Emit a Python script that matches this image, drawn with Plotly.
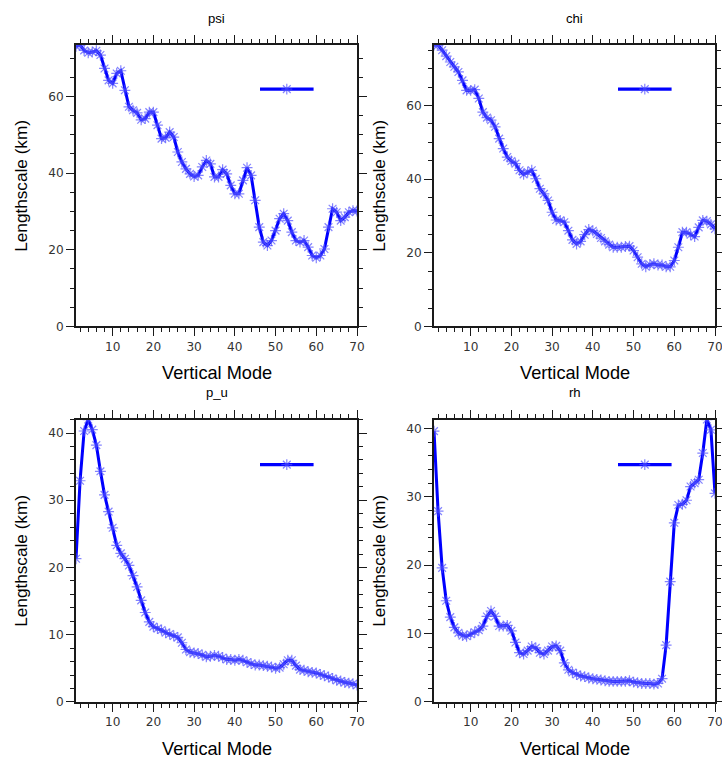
import plotly.graph_objects as go

modes = list(range(1, 71))

psi = [73.1, 73.4, 72.0, 71.4, 71.6, 71.9, 70.8, 67.3, 64.2, 63.4,
       66.0, 66.7, 61.6, 57.3, 56.4, 55.7, 53.9, 54.2, 55.9, 55.9,
       52.5, 49.0, 49.2, 50.7, 49.4, 45.5, 42.9, 41.1, 39.8, 39.1,
       39.4, 41.6, 43.3, 42.4, 39.0, 39.0, 40.9, 39.8, 36.8, 34.6,
       34.6, 38.1, 41.4, 39.4, 32.9, 25.9, 22.0, 21.1, 22.4, 25.0,
       28.1, 29.4, 27.6, 24.6, 22.4, 22.0, 22.4, 20.7, 18.5, 17.9,
       18.5, 20.2, 25.9, 30.7, 29.8, 27.6, 28.5, 29.8, 30.2, 30.1]

chi = [76.4, 76.4, 75.0, 73.4, 71.8, 70.5, 69.1, 66.8, 64.1, 64.1,
       64.3, 61.9, 58.2, 56.7, 56.0, 54.2, 51.0, 48.3, 46.0, 44.9,
       44.2, 42.4, 41.3, 41.9, 42.4, 40.1, 37.4, 36.0, 34.2, 31.0,
       28.9, 28.8, 28.3, 26.0, 23.5, 22.4, 23.1, 24.9, 26.3, 26.0,
       25.1, 24.0, 23.1, 22.2, 21.5, 21.5, 21.5, 21.7, 21.8, 20.6,
       18.8, 17.0, 16.2, 16.8, 17.0, 16.7, 16.7, 16.2, 16.2, 17.9,
       21.5, 25.6, 25.6, 24.9, 24.4, 26.9, 28.8, 28.6, 27.7, 26.5]

p_u = [21.3, 32.9, 40.3, 42.0, 40.5, 38.2, 34.3, 30.8, 28.3, 25.9,
       23.3, 22.1, 21.3, 20.3, 18.8, 17.1, 15.1, 13.3, 11.9, 11.2,
       10.9, 10.7, 10.3, 10.1, 9.8, 9.6, 8.8, 7.8, 7.4, 7.3,
       7.2, 7.0, 6.7, 6.8, 6.9, 6.8, 6.6, 6.3, 6.3, 6.2,
       6.3, 6.2, 5.9, 5.7, 5.5, 5.5, 5.4, 5.3, 5.2, 5.0,
       5.1, 5.6, 6.2, 6.2, 5.4, 4.8, 4.7, 4.5, 4.4, 4.3,
       4.1, 3.9, 3.7, 3.5, 3.2, 3.1, 2.9, 2.8, 2.7, 2.5]

rh = [39.6, 27.9, 19.6, 14.8, 12.4, 10.9, 10.1, 9.7, 9.6, 9.9,
      10.2, 10.5, 11.1, 12.5, 13.3, 12.5, 11.1, 11.1, 11.2, 10.4,
      8.7, 7.2, 7.0, 7.5, 8.1, 7.9, 7.2, 7.0, 7.5, 8.1,
      8.2, 7.5, 5.7, 4.7, 4.3, 4.0, 3.8, 3.7, 3.5, 3.4,
      3.3, 3.2, 3.1, 3.0, 3.0, 3.0, 3.0, 3.0, 3.1, 2.9,
      2.8, 2.7, 2.7, 2.7, 2.6, 2.7, 3.4, 8.3, 17.6, 26.2,
      28.8, 28.9, 29.5, 31.5, 32.0, 32.5, 36.4, 41.3, 39.8, 30.5]

titles = ["psi", "chi", "p_u", "rh"]
series = [psi, chi, p_u, rh]
y_major = [20, 20, 10, 10]
y_minor = [5, 5, 2, 2]

# target picture size; the capture is scaled, so size everything by S
W0, H0 = 722, 758
S = 730 / 722
W, H = round(W0 * S), round(H0 * S)


def px(v):
    return v / W0


def py(v):
    return 1 - v / H0


def sz(v):
    return v * S


# plot boxes in target pixels (left, right, top, bottom)
boxes = [(76, 357, 45, 326), (434, 715, 45, 326),
         (76, 357, 419, 701), (434, 715, 419, 701)]
legend_pos = [(255, 89), (613, 89), (255, 464), (613, 464)]

FONT = "Liberation Sans, Arial, Helvetica, sans-serif"
TICKFONT = "DejaVu Sans, Verdana, sans-serif"
BLUE = "#0000ff"
AX = "#1a1a1a"
MK = "rgba(80,80,255,0.7)"

fig = go.Figure()
layout = dict(width=W, height=H, margin=dict(l=0, r=0, t=0, b=0),
              paper_bgcolor="white", plot_bgcolor="white",
              font=dict(family=FONT, color="#000"), annotations=[])

for i, (ttl, ys) in enumerate(zip(titles, series)):
    n = i + 1
    xs = "" if n == 1 else str(n)
    lg = "legend" if n == 1 else f"legend{n}"
    fig.add_trace(go.Scatter(
        x=modes, y=ys, mode="lines+markers", name="",
        xaxis="x" + xs, yaxis="y" + xs, legend=lg, showlegend=True,
        line=dict(color=BLUE, width=sz(3)),
        marker=dict(symbol="asterisk-open", size=sz(9), color=MK,
                    line=dict(color=MK, width=sz(1.2))),
    ))
    l, r, t, b = boxes[i]
    xd = [px(l), min(px(r), 1.0)]
    yd = [py(b), py(t)]
    common = dict(showline=True, linecolor=AX, linewidth=sz(1.5),
                  mirror="ticks", ticks="outside", ticklen=sz(8),
                  tickwidth=sz(1.3), tickcolor=AX,
                  showgrid=False, zeroline=False,
                  tickfont=dict(family=TICKFONT, size=sz(12), color="#333"))
    minor_common = dict(ticks="outside", ticklen=sz(4), tick0=0,
                        tickcolor=AX, tickwidth=sz(1), showgrid=False)
    layout["xaxis" + xs] = dict(domain=xd, range=[1, 70], anchor="y" + xs,
                                tick0=0, dtick=10,
                                minor=dict(dtick=2, **minor_common),
                                **common)
    layout["yaxis" + xs] = dict(domain=yd, range=[0, max(ys)], anchor="x" + xs,
                                tick0=0, dtick=y_major[i],
                                minor=dict(dtick=y_minor[i], **minor_common),
                                **common)
    lx, ly = legend_pos[i]
    layout[lg] = dict(x=px(lx), y=py(ly), xanchor="left", yanchor="middle",
                      bgcolor="rgba(0,0,0,0)", borderwidth=0,
                      itemwidth=sz(53), font=dict(size=sz(12)))
    cx = px((l + r) / 2)
    layout["annotations"] += [
        dict(text=ttl, x=cx, y=py(t - 27), xref="paper", yref="paper",
             showarrow=False, font=dict(size=sz(13), family=FONT, color="#000"),
             xanchor="center", yanchor="middle"),
        dict(text="Vertical Mode", x=cx, y=py(b + 47), xref="paper",
             yref="paper", showarrow=False,
             font=dict(size=sz(18), family=FONT, color="#000"),
             xanchor="center", yanchor="middle"),
        dict(text="Lengthscale (km)", x=px(l - 55), y=py((t + b) / 2),
             xref="paper", yref="paper", showarrow=False, textangle=-90,
             font=dict(size=sz(17), family=FONT, color="#000"),
             xanchor="center", yanchor="middle"),
    ]

fig.update_layout(**layout)
fig.write_html(
    "out.html",
    config={"displayModeBar": False},
    post_script="document.body.style.margin='0';"
                "document.body.style.overflow='hidden';",
)
